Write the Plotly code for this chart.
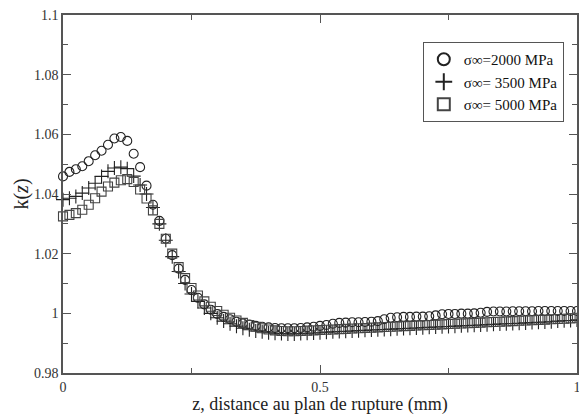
import plotly.graph_objects as go

# distance to the fracture plane (mm)
z = [i * 0.0125 for i in range(81)]

k_2000 = [
    1.0459, 1.0474, 1.0483, 1.0493, 1.0510, 1.0530, 1.0545, 1.0565, 1.0586, 1.0591,
    1.0578, 1.0535, 1.0490, 1.0428, 1.0364, 1.0310, 1.0250, 1.0195, 1.0150, 1.0112,
    1.0078, 1.0052, 1.0030, 1.0012, 0.9998, 0.9988, 0.9980, 0.9972, 0.9966, 0.9962,
    0.9958, 0.9955, 0.9953, 0.9951, 0.9950, 0.9950, 0.9950, 0.9951, 0.9953, 0.9955,
    0.9958, 0.9961, 0.9965, 0.9968, 0.9969, 0.9970, 0.9970, 0.9971, 0.9972, 0.9974,
    0.9980, 0.9985, 0.9987, 0.9988, 0.9988, 0.9989, 0.9989, 0.9990, 0.9993, 0.9997,
    0.9998, 0.9998, 0.9999, 0.9999, 1.0000, 1.0002, 1.0005, 1.0006, 1.0006, 1.0006,
    1.0007, 1.0007, 1.0007, 1.0007, 1.0008, 1.0008, 1.0008, 1.0008, 1.0008, 1.0008,
    1.0008,
]

k_3500 = [
    1.0381, 1.0386, 1.0392, 1.0403, 1.0420, 1.0436, 1.0459, 1.0476, 1.0487, 1.0490,
    1.0485, 1.0460, 1.0430, 1.0400, 1.0355, 1.0300, 1.0245, 1.0190, 1.0140, 1.0100,
    1.0065, 1.0040, 1.0018, 1.0000, 0.9985, 0.9974, 0.9965, 0.9957, 0.9950, 0.9945,
    0.9941, 0.9938, 0.9935, 0.9933, 0.9932, 0.9931, 0.9931, 0.9932, 0.9933, 0.9934,
    0.9935, 0.9937, 0.9938, 0.9939, 0.9940, 0.9941, 0.9942, 0.9943, 0.9944, 0.9945,
    0.9946, 0.9947, 0.9948, 0.9949, 0.9950, 0.9951, 0.9952, 0.9953, 0.9954, 0.9955,
    0.9956, 0.9957, 0.9958, 0.9959, 0.9960, 0.9961, 0.9962, 0.9963, 0.9964, 0.9965,
    0.9966, 0.9967, 0.9968, 0.9969, 0.9970, 0.9971, 0.9972, 0.9974, 0.9975, 0.9976,
    0.9978,
]

k_5000 = [
    1.0325, 1.0330, 1.0336, 1.0347, 1.0364, 1.0386, 1.0408, 1.0425, 1.0438, 1.0446,
    1.0450, 1.0440, 1.0415, 1.0385, 1.0345, 1.0300, 1.0250, 1.0200, 1.0155, 1.0118,
    1.0085, 1.0060, 1.0040, 1.0022, 1.0008, 0.9995, 0.9985, 0.9976, 0.9968, 0.9961,
    0.9955, 0.9950, 0.9946, 0.9943, 0.9941, 0.9940, 0.9940, 0.9941, 0.9942, 0.9943,
    0.9944, 0.9945, 0.9946, 0.9947, 0.9948, 0.9949, 0.9950, 0.9951, 0.9952, 0.9953,
    0.9954, 0.9955, 0.9956, 0.9957, 0.9958, 0.9959, 0.9960, 0.9961, 0.9962, 0.9963,
    0.9964, 0.9965, 0.9966, 0.9967, 0.9968, 0.9969, 0.9970, 0.9971, 0.9972, 0.9973,
    0.9974, 0.9975, 0.9976, 0.9977, 0.9978, 0.9979, 0.9980, 0.9981, 0.9982, 0.9983,
    0.9985,
]

series_names = ["σ∞=2000 MPa", "σ∞= 3500 MPa", "σ∞= 5000 MPa"]
x_tickvals = [0, 0.5, 1]
x_ticktext = ["0", "0.5", "1"]
y_tickvals = [0.98, 1.0, 1.02, 1.04, 1.06, 1.08, 1.1]
y_ticktext = ["0.98", "1", "1.02", "1.04", "1.06", "1.08", "1.1"]

FONT = "Liberation Serif, Times New Roman, serif"
INK = "#222222"

fig = go.Figure()
styles = [
    dict(symbol="circle-open", size=9, color=INK, line=dict(width=1.1, color=INK)),
    dict(symbol="cross-thin-open", size=10, color=INK, line=dict(width=1.1, color=INK)),
    dict(symbol="square-open", size=9, color="#444444", line=dict(width=1.1, color="#444444")),
]
for name, ys, st in zip(series_names, [k_2000, k_3500, k_5000], styles):
    fig.add_trace(go.Scatter(x=z, y=ys, mode="markers", name=name, marker=st,
                             cliponaxis=False))

axis_common = dict(
    showgrid=False, zeroline=False, showline=True, linecolor="#555555", linewidth=1.5,
    mirror="allticks", ticks="inside", ticklen=8, tickwidth=1.3, tickcolor="#555555",
    tickfont=dict(family=FONT, size=14, color="#333333"), automargin=False,
    ticklabeloverflow="allow",
)

fig.update_xaxes(
    range=[0, 1], tickvals=x_tickvals, ticktext=x_ticktext,
    minor=dict(dtick=0.25, ticks="inside", ticklen=5, tickcolor="#555555", tickwidth=1.2),
    title=dict(text="z, distance au plan de rupture (mm)", font=dict(family=FONT, size=18, color="#222222"), standoff=1),
    **axis_common,
)
fig.update_yaxes(
    range=[0.98, 1.1], tickvals=y_tickvals, ticktext=y_ticktext,
    minor=dict(dtick=0.01, ticks="inside", ticklen=5, tickcolor="#555555", tickwidth=1.2),
    title=dict(text="k(<i>z</i>)", font=dict(family=FONT, size=20, color="#222222"), standoff=0),
    **axis_common,
)

fig.update_layout(
    width=579, height=415,
    margin=dict(l=63, r=2, t=15, b=42),
    paper_bgcolor="white", plot_bgcolor="white",
    showlegend=True,
    legend=dict(
        x=0.700, y=0.9246, xanchor="left", yanchor="top",
        bordercolor="#555555", borderwidth=1, bgcolor="white",
        font=dict(family=FONT, size=15, color="#111111"),
        tracegroupgap=0, itemsizing="constant",
    ),
)

fig.write_html(
    "out.html",
    config={"displayModeBar": False},
    post_script="document.body.style.margin='0';document.body.style.padding='0';",
)
